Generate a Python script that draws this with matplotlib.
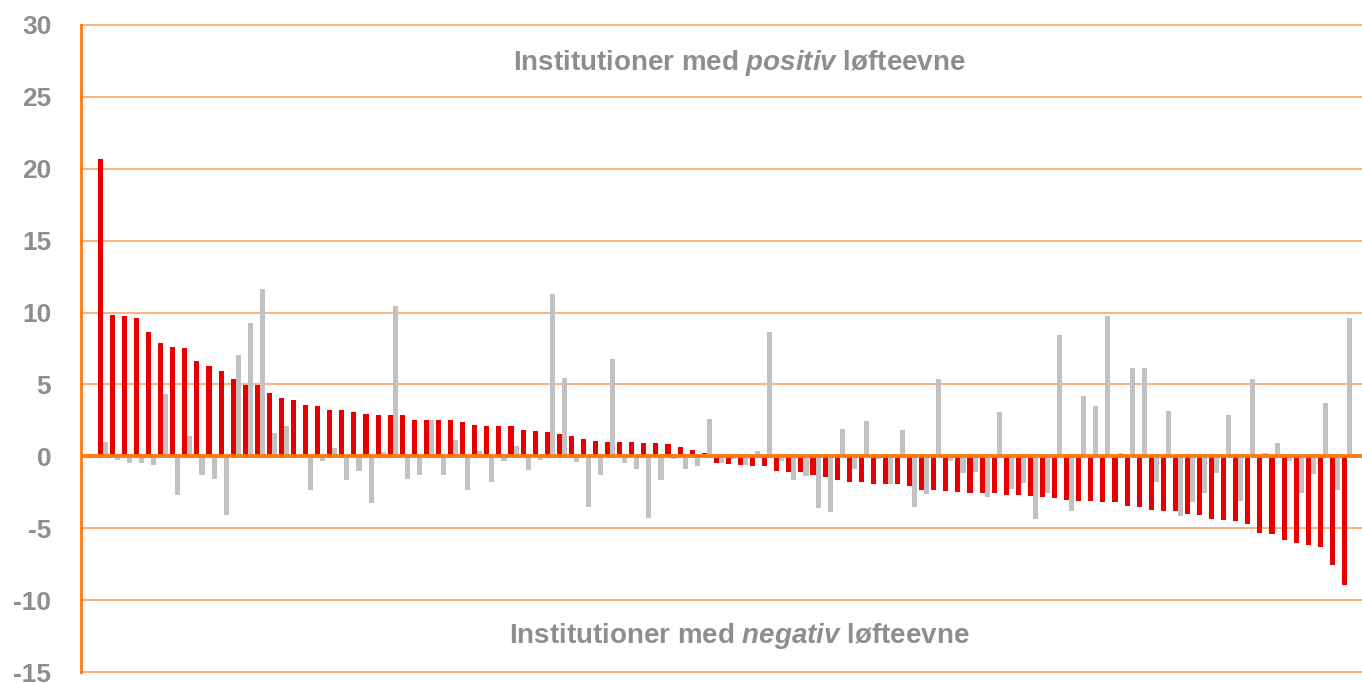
import matplotlib.pyplot as plt
import numpy as np

# red: institution values (sorted), gray: comparison values
red = [20.65, 9.81, 9.75, 9.61, 8.63, 7.87, 7.59, 7.52, 6.62, 6.27,
       5.93, 5.37, 4.95, 4.95, 4.40, 4.05, 3.91, 3.56, 3.50, 3.22,
       3.22, 3.08, 2.94, 2.87, 2.87, 2.87, 2.52, 2.52, 2.52, 2.52,
       2.38, 2.17, 2.10, 2.10, 2.10, 1.83, 1.76, 1.69, 1.55, 1.41,
       1.20, 1.06, 0.99, 0.99, 0.99, 0.92, 0.92, 0.85, 0.65, 0.44,
       0.23, -0.47, -0.53, -0.60, -0.67, -0.67, -1.02, -1.09, -1.09, -1.30,
       -1.44, -1.64, -1.78, -1.78, -1.92, -1.92, -1.92, -2.06, -2.34, -2.34,
       -2.41, -2.48, -2.55, -2.55, -2.55, -2.69, -2.69, -2.75, -2.82, -2.89,
       -3.03, -3.10, -3.10, -3.17, -3.17, -3.45, -3.52, -3.73, -3.80, -3.80,
       -4.00, -4.07, -4.35, -4.42, -4.49, -4.70, -5.32, -5.39, -5.81, -6.02,
       -6.16, -6.30, -7.55, -8.94]
gray = [1.00, -0.25, -0.46, -0.46, -0.60, 4.33, -2.69, 1.41, -1.30, -1.57,
        -4.07, 7.04, 9.26, 11.62, 1.62, 2.11, 0.00, -2.34, -0.32, 0.58,
        -1.64, -1.02, -3.24, 0.30, 10.44, -1.57, -1.30, 2.52, -1.30, 1.13,
        -2.34, 0.37, -1.78, -0.33, 0.72, -0.95, -0.26, 11.27, 5.44, -0.40,
        -3.52, -1.30, 6.75, -0.47, -0.88, -4.28, -1.65, -0.19, -0.88, -0.67,
        2.59, -0.47, -0.19, -0.60, 0.37, 8.63, -0.32, -1.64, -1.37, -3.59,
        -3.87, 1.90, -0.88, 2.45, -0.19, -1.92, 1.83, -3.52, -2.62, 5.37,
        -0.32, -1.16, -1.09, -2.82, 3.08, -2.27, -1.85, -4.35, -2.55, 8.43,
        -3.80, 4.19, 3.50, 9.75, 0.23, 6.13, 6.13, -1.78, 3.15, -4.14,
        -3.17, -2.55, -1.16, 2.87, -3.10, 5.37, 0.23, 0.93, -0.32, -2.55,
        -1.23, 3.70, -2.34, 9.61]
yticks = [30, 25, 20, 15, 10, 5, 0, -5, -10, -15]

plt.rcParams['font.family'] = ['Liberation Sans', 'DejaVu Sans']
plt.rcParams['mathtext.fontset'] = 'custom'
plt.rcParams['mathtext.rm'] = 'Liberation Sans:bold'
plt.rcParams['mathtext.it'] = 'Liberation Sans:italic:bold'
plt.rcParams['mathtext.bf'] = 'Liberation Sans:bold'

fig = plt.figure(figsize=(13.62, 6.83), dpi=100)
ax = fig.add_axes([80.5/1362, 11/683, 1 - 80.5/1362, 647/683])

x = np.arange(len(red))
w = 0.42
ax.bar(x - 0.21, red, width=w, color='#e80000', zorder=2)
ax.bar(x + 0.21, gray, width=w, color='#c2c2c2', zorder=2)

ax.set_xlim(-1.846, 104.24)
ax.set_ylim(-15, 30)
ax.set_yticks(yticks)
ax.set_yticklabels([str(t) for t in yticks])
ax.tick_params(axis='y', length=0, pad=21, labelsize=19, labelcolor='#8e8e8e')
for lab in ax.get_yticklabels():
    lab.set_fontweight('bold')
ax.set_xticks([])

for t in yticks:
    if t != 0:
        ax.axhline(t, color='#fbb27c', lw=1.4, zorder=1, clip_on=False)
ax.axhline(0, color='#ff7a10', lw=2.8, zorder=3)

for s in ['top', 'right', 'bottom']:
    ax.spines[s].set_visible(False)
ax.spines['left'].set_color('#ff7a10')
ax.spines['left'].set_linewidth(2)

ax.text(0.514, 0.942, r'Institutioner med $\it{positiv}$ løfteevne', transform=ax.transAxes,
        ha='center', va='center', fontsize=20, fontweight='bold', color='#8e8e8e')
ax.text(0.514, 0.055, r'Institutioner med $\it{negativ}$ løfteevne', transform=ax.transAxes,
        ha='center', va='center', fontsize=20, fontweight='bold', color='#8e8e8e')

plt.savefig('out.png', dpi=100)
